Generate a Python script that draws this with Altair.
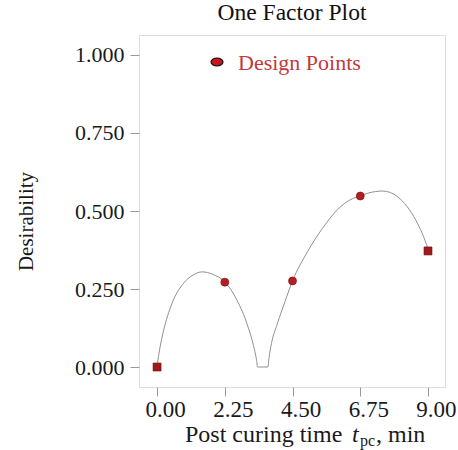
import altair as alt
import pandas as pd

# ---- data ----
curve_t = [0.0, 0.03, 0.1, 0.2, 0.5, 0.85, 1.2, 1.5, 1.85, 2.25, 2.65, 3.0, 3.2, 3.3, 3.34,
           3.68, 3.72, 3.8, 4.0, 4.25, 4.5, 5.0, 5.5, 6.0, 6.5, 6.75, 7.0, 7.5, 8.0, 8.3,
           8.6, 8.8, 9.0]
curve_d = [0.0, 0.022, 0.064, 0.11, 0.205, 0.265, 0.295, 0.305, 0.297, 0.273, 0.215, 0.135,
           0.07, 0.025, 0.0, 0.0, 0.03, 0.075, 0.14, 0.21, 0.276, 0.37, 0.445, 0.505, 0.54,
           0.548, 0.557, 0.564, 0.545, 0.515, 0.47, 0.43, 0.38]

design_t = [0.0, 2.25, 4.5, 6.75, 9.0]
design_d = [0.0, 0.272, 0.276, 0.548, 0.372]
design_kind = ["edge", "interior", "interior", "interior", "edge"]

x_ticks = [0.0, 2.25, 4.5, 6.75, 9.0]
y_ticks = [0.0, 0.25, 0.5, 0.75, 1.0]

legend_label = ["Design Points"]
xtitle_parts = ["Post curing time", "t", "pc", ", min"]

FONT = "Liberation Serif"

curve_df = pd.DataFrame({"t": curve_t, "d": curve_d})
pts_df = pd.DataFrame({"t": design_t, "d": design_d, "kind": design_kind})

xscale = alt.Scale(domain=[-0.6, 9.565], nice=False, zero=False)
yscale = alt.Scale(domain=[-0.064, 1.064], nice=False, zero=False)

xaxis = alt.Axis(values=x_ticks, format=".2f", domain=False, grid=False,
                 tickSize=9, tickColor="#9a9a9a", labelFont=FONT, labelFontSize=23,
                 labelColor="#1a1a1a", labelPadding=2, labelOffset=8, title=None)
yaxis = alt.Axis(values=y_ticks, format=".3f", domain=False, grid=False,
                 tickSize=9, tickColor="#9a9a9a", labelFont=FONT, labelFontSize=22,
                 labelColor="#1a1a1a", labelPadding=6,
                 title="Desirability", titleFont=FONT, titleFontSize=21,
                 titleFontWeight="normal", titleColor="#1a1a1a",
                 titleX=-107, titleY=186, titleAngle=270, titleBaseline="alphabetic",
                 titleAlign="center")

line = alt.Chart(curve_df).mark_line(color="#909090", strokeWidth=1,
                                     interpolate="monotone").encode(
    x=alt.X("t:Q", scale=xscale, axis=xaxis),
    y=alt.Y("d:Q", scale=yscale, axis=yaxis),
)

points = alt.Chart(pts_df).mark_point(filled=True, size=64, opacity=1,
                                      stroke="#6a0c0c", strokeWidth=0.6).encode(
    x=alt.X("t:Q", scale=xscale),
    y=alt.Y("d:Q", scale=yscale),
    shape=alt.Shape("kind:N", scale=alt.Scale(domain=["edge", "interior"],
                                              range=["square", "circle"]), legend=None),
    fill=alt.Fill("kind:N", scale=alt.Scale(domain=["edge", "interior"],
                                            range=["#a01a1c", "#b81d24"]), legend=None),
)

leg_df = pd.DataFrame({"label": legend_label})
ellipse = "M-1,0A1,0.667,0,1,0,1,0A1,0.667,0,1,0,-1,0Z"
leg_sym = alt.Chart(leg_df).mark_point(shape=ellipse, filled=True, size=144,
                                       fill="#c8161d", stroke="#111111",
                                       strokeWidth=1.2, opacity=1).encode(
    x=alt.value(78), y=alt.value(27))
leg_txt = alt.Chart(leg_df).mark_text(align="left", baseline="middle", fontSize=22,
                                      font=FONT, color="#bf3a3a").encode(
    x=alt.value(99), y=alt.value(28), text="label:N")

# x-axis title with italic t and subscript pc
def part(i, x, y, size, style="normal"):
    df = pd.DataFrame({"s": [xtitle_parts[i]]})
    return alt.Chart(df).mark_text(align="left", baseline="alphabetic", font=FONT,
                                   fontSize=size, fontStyle=style,
                                   color="#1a1a1a").encode(
        x=alt.value(x), y=alt.value(y), text="s:N")

xt = (part(0, 46, 407, 24) + part(1, 213, 407, 24, "italic")
      + part(2, 221, 411, 16) + part(3, 237, 407, 24))

chart = alt.layer(line, points, leg_sym, leg_txt, xt).properties(
    width=306, height=352,
    title=alt.TitleParams("One Factor Plot", font=FONT, fontSize=23.5,
                          fontWeight="normal", color="#111111", offset=11,
                          anchor="middle"),
    autosize=alt.AutoSizeParams(type="none"),
    padding={"left": 139, "top": 35, "right": 13, "bottom": 63},
).configure_view(stroke="#b3b3b3", strokeWidth=1).configure(background="white")

chart.save("out.html", embed_options={"renderer": "svg", "actions": False})
